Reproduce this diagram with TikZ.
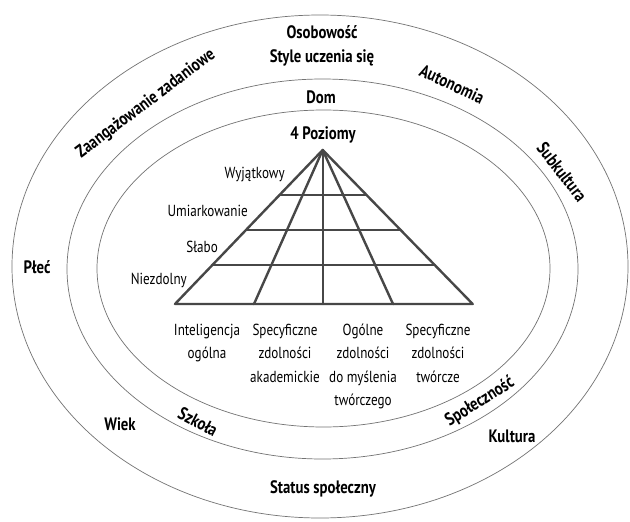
\documentclass[tikz,border=0pt]{standalone}
\usepackage{fontspec}
\setmainfont{PT Sans}[FakeStretch=0.82]
\usetikzlibrary{calc}
\begin{document}
\begin{tikzpicture}[x=1pt,y=-1pt,
  ring/.style={draw=black!55, line width=0.7pt},
  pyr/.style={draw=black!72, line width=2.4pt, line cap=round, line join=round},
  lab/.style={font=\fontsize{16}{23.5}\selectfont, inner sep=0pt, align=center},
  blab/.style={font=\bfseries\fontsize{18}{21}\selectfont, inner sep=0pt}]
\useasboundingbox[fill=white] (0,0) rectangle (630,522);
% rings
\draw[ring] (320,266.5) ellipse [x radius=308, y radius=251.5];
\draw[ring] (322.5,269) ellipse [x radius=255.5, y radius=190];
\draw[ring] (323.5,268.5) ellipse [x radius=226.5, y radius=158.5];
% pyramid
\coordinate (apex) at (322.7,150);
\coordinate (b0) at (175,304);
\coordinate (b1) at (254,304);
\coordinate (b2) at (322.7,304);
\coordinate (b3) at (393,304);
\coordinate (b4) at (472.7,304);
\draw[pyr] (b0) -- (apex) -- (b4) -- cycle;
\foreach \i in {1,2,3} \draw[pyr] (apex) -- (b\i);
\foreach \t in {0.292,0.519,0.747} \draw[pyr] ($(apex)!\t!(b0)$) -- ($(apex)!\t!(b4)$);
% level labels
\node[blab] (poz) at (323,135) {4 Poziomy};
\node[lab, anchor=east] (wyj) at (285,175) {Wyjątkowy};
\node[lab, anchor=east] (umi) at (248,211) {Umiarkowanie};
\node[lab, anchor=east] (sla) at (218,247) {Słabo};
\node[lab, anchor=east] (nie) at (187,280) {Niezdolny};
% bottom labels
\node[lab, anchor=north] (intel) at (207,323.5) {Inteligencja\\ogólna};
\node[lab, anchor=north] (akad) at (285,323.5) {Specyficzne\\zdolności\\akademickie};
\node[lab, anchor=north] (ogol) at (363,323.5) {Ogólne\\zdolności\\do myślenia\\twórczego};
\node[lab, anchor=north] (tworc) at (438,323.5) {Specyficzne\\zdolności\\twórcze};
% ring labels
\node[blab] (osob) at (322,32) {Osobowość};
\node[blab] (style) at (322,58) {Style uczenia się};
\node[blab] (dom) at (321,97) {Dom};
\node[blab, rotate=37] (zaang) at (146,104) {Zaangażowanie zadaniowe};
\node[blab, rotate=-25] (auto) at (452,84) {Autonomia};
\node[blab, rotate=-52] (subk) at (562,172) {Subkultura};
\node[blab] (plec) at (37,267) {Płeć};
\node[blab] (wiek) at (120,424) {Wiek};
\node[blab, rotate=-28] (szk) at (198,422) {Szkoła};
\node[blab, rotate=32] (spol) at (480,402) {Społeczność};
\node[blab] (kult) at (512,436) {Kultura};
\node[blab] (stat) at (323,489) {Status społeczny};
\end{tikzpicture}
\end{document}
